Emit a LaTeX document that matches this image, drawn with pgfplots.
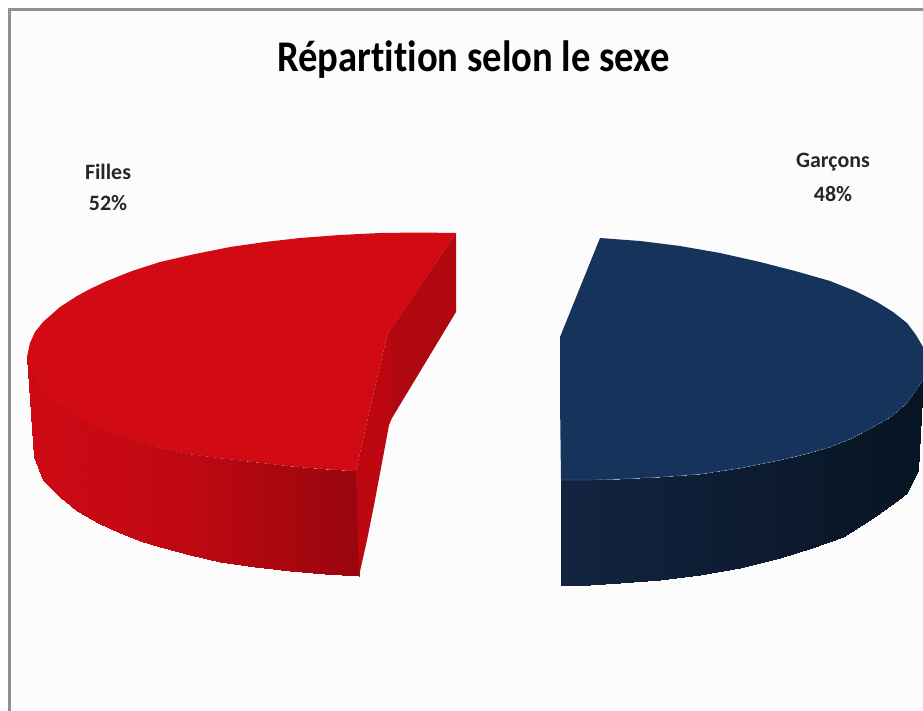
\documentclass[border=0pt]{standalone}
\usepackage{fontspec}
\setmainfont{Carlito}
\usepackage{graphicx}
\usepackage{pgfplots}
\pgfplotsset{compat=1.18}
\definecolor{frameg}{RGB}{145,145,145}
\definecolor{redtop}{RGB}{209,10,20}
\definecolor{redcut}{RGB}{175,8,16}
\definecolor{redmid}{RGB}{188,7,16}
\definecolor{redseam}{RGB}{180,10,20}
\definecolor{bluetop}{RGB}{22,51,92}
\definecolor{blueseam}{RGB}{45,75,115}
\pgfplotsset{
  colormap={redside}{rgb255=(206,10,20) rgb255=(190,8,18) rgb255=(152,6,14)},
  colormap={blueside}{rgb255=(18,36,64) rgb255=(13,28,50) rgb255=(7,20,34)},
}
\begin{document}
\begin{tikzpicture}
\begin{axis}[
  scale only axis, width=923bp, height=711bp,
  xmin=0, xmax=923, ymin=0, ymax=711, y dir=reverse,
  axis lines=none, point meta rel=per plot,
  clip=true,
]
% page and background
\addplot[draw=none, fill=white] coordinates {(0,0) (923,0) (923,711) (0,711)} --cycle;
\addplot[draw=none, fill=white!99!black] coordinates {(10,10) (923,10) (923,711) (10,711)} --cycle;
\addplot[draw=frameg, line width=3bp] coordinates {(9.7,711) (9.7,10) (923,10)};

% red slice: outer wall
\addplot[patch, patch type=rectangle, shader=interp, colormap name=redside, point meta=x] table {
x y
27 357
34 457
43 480
43 393
43 393
43 480
60 497
60 407
60 407
60 497
77 511
77 418
77 418
77 511
98 523
92 426
92 426
98 523
120 533
110 433
110 433
120 533
140 541
135 441
135 441
140 541
160 547
160 448
160 448
160 547
190 555
190 454
190 454
190 555
220 562
220 458
220 458
220 562
255 567
255 462
255 462
255 567
290 571
290 466
290 466
290 571
325 574
325 469
325 469
325 574
359 576
356 471
};
% red slice: cut faces
\addplot[draw=none, fill=redmid] coordinates {(356,471) (372,400) (388,332) (392,328) (392,418) (389,425) (384,452) (375,500) (367,540) (359,576)} --cycle;
\addplot[draw=none, fill=redcut] coordinates {(391,329) (456,233) (456,312) (392,418)} --cycle;
% red slice: top face
\addplot[draw=none, fill=redtop] coordinates {
(456,233) (420,232.5) (380,233) (340,235) (300,238) (265,242) (230,247) (195,254) (160,262) (132,271) (107,281) (90,289) (77,296) (60,307) (43,322) (35,332) (30,343) (27,357)
(33,377) (43,393) (60,407) (77,418) (92,426) (110,433) (135,441) (160,448) (190,454) (220,458) (255,462) (290,466) (325,469) (356,471)
(372,400) (388,332) (392,328)} --cycle;
\addplot[draw=redseam, line width=0.6bp] coordinates {(27,357) (33,377) (43,393) (60,407) (77,418) (92,426) (110,433) (135,441) (160,448) (190,454) (220,458) (255,462) (290,466) (325,469) (356,471)};

% blue slice: outer wall
\addplot[patch, patch type=rectangle, shader=interp, colormap name=blueside, point meta=x] table {
x y
561 480
561 585
590 584.5
590 480
590 480
590 584.5
620 583
620 479
620 479
620 583
660 580
660 477
660 477
660 580
700 575
700 474
700 474
700 575
740 568
740 468
740 468
740 568
780 558
780 460
780 460
780 558
812 548
805 454
805 454
812 548
843 537
830 447
830 447
843 537
862 525
852 438
852 438
862 525
880 513
873 427
873 427
880 513
894 503
892 416
892 416
894 503
907 493
907 403
907 403
907 493
918 470
923 380
};
% blue slice: top face
\addplot[draw=none, fill=bluetop] coordinates {
(600,238) (640,241) (680,246) (720,253) (760,262) (795,271) (830,281) (855,291) (877,302) (893,312) (907,323) (916,335) (923,347) (923,380)
(907,403) (892,416) (873,427) (852,438) (830,447) (805,454) (780,460) (740,468) (700,474) (660,477) (620,479) (590,480) (561,480)
(560,400) (560,337)} --cycle;
\addplot[draw=blueseam, line width=0.6bp] coordinates {(923,380) (907,403) (892,416) (873,427) (852,438) (830,447) (805,454) (780,460) (740,468) (700,474) (660,477) (620,479) (590,480) (561,480)};

% texts
\node[text=black, anchor=center] at (axis cs:473.5,60) {\scalebox{0.88}[1]{\fontsize{44}{48}\selectfont\bfseries Répart\kern0pt it\kern0pt ion selon le sexe}};
\node[font=\bfseries\fontsize{22}{26}\selectfont, text=black!85, anchor=center] at (axis cs:108,172) {Filles};
\node[font=\bfseries\fontsize{22}{26}\selectfont, text=black!85, anchor=center] at (axis cs:108,203) {52\%};
\node[font=\bfseries\fontsize{22}{26}\selectfont, text=black!85, anchor=center] at (axis cs:833,162) {Garçons};
\node[font=\bfseries\fontsize{22}{26}\selectfont, text=black!85, anchor=center] at (axis cs:833,194) {48\%};
\end{axis}
\end{tikzpicture}
\end{document}
